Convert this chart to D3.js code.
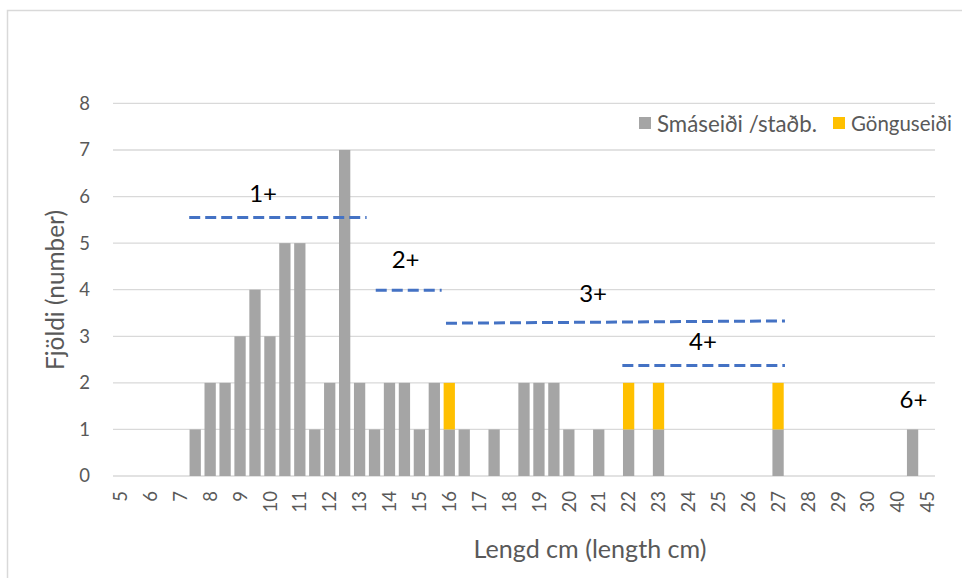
<!DOCTYPE html>
<html>
<head>
<meta charset="utf-8">
<script src="https://cdn.jsdelivr.net/npm/d3@7"></script>
<style>
  html, body { margin: 0; padding: 0; background: #fff; }
  svg { display: block; font-family: Lato, "Open Sans", sans-serif; }
</style>
</head>
<body>
<svg id="chart" width="962" height="578"></svg>
<script>
// ---- data ----
const categories = ["5","5.5","6","6.5","7","7.5","8","8.5","9","9.5","10","10.5","11","11.5","12","12.5","13","13.5","14","14.5","15","15.5","16","16.5","17","17.5","18","18.5","19","19.5","20","20.5","21","21.5","22","22.5","23","23.5","24","24.5","25","25.5","26","26.5","27","27.5","28","28.5","29","29.5","30","35","40","42","45"];
const smaseidi   = [0,0,0,0,0,1,2,2,3,4,3,5,5,1,2,7,2,1,2,2,1,2,1,1,0,1,0,2,2,2,1,0,1,0,1,0,1,0,0,0,0,0,0,0,1,0,0,0,0,0,0,0,0,1,0];
const gonguseidi = [0,0,0,0,0,0,0,0,0,0,0,0,0,0,0,0,0,0,0,0,0,0,1,0,0,0,0,0,0,0,0,0,0,0,1,0,1,0,0,0,0,0,0,0,1,0,0,0,0,0,0,0,0,0,0];
const seriesNames = ["Smáseiði /staðb.", "Gönguseiði"];
const seriesColors = ["#A5A5A5", "#FFC000"];
const yTicks = [0,1,2,3,4,5,6,7,8];
const tickLabels = categories.filter((d, i) => i % 2 === 0);
// age-class annotations (x in category-index units, y in count units)
const ageNames  = ["1+", "2+", "3+", "4+", "6+"];
const ageLineX1 = [5.1, 17.58, 22.28, 34.08, null];
const ageLineX2 = [16.97, 21.99, 44.96, 44.96, null];
const ageLineY1 = [5.55, 3.99, 3.28, 2.37, null];
const ageLineY2 = [5.55, 3.99, 3.33, 2.37, null];
const ageTextX  = [10.04, 19.58, 32.12, 39.48, 53.56];
const ageTextY  = [6.09, 4.68, 3.93, 2.92, 1.67];

// ---- layout ----
const svg = d3.select("#chart");
const L = 113, R = 935, T = 103.4, B = 476;

// scale a text's font size so that it spans the given width
function fitWidth(sel, target, base) {
  sel.each(function () {
    const len = this.getComputedTextLength();
    if (len > 0) d3.select(this).style("font-size", (base * target / len).toFixed(2) + "px");
  });
}

// chart border
svg.append("rect").attr("x", 7.5).attr("y", 10.5).attr("width", 1000).attr("height", 1000)
  .attr("fill", "none").attr("stroke", "#d9d9d9").attr("stroke-width", 1.5);

const x = d3.scaleBand().domain(categories).range([L, R]).paddingInner(0.245).paddingOuter(0.1225);
const xi = d3.scaleLinear().domain([0, categories.length]).range([L, R]);
const y = d3.scaleLinear().domain([0, 8]).range([B, T]);

// gridlines
svg.append("g").selectAll("line").data(yTicks).join("line")
  .attr("x1", L).attr("x2", R).attr("y1", d => y(d)).attr("y2", d => y(d))
  .attr("stroke", "#d9d9d9").attr("stroke-width", 1.3);

// y axis
const yAxis = svg.append("g").attr("transform", `translate(${L},0)`)
  .call(d3.axisLeft(y).tickValues(yTicks).tickSize(0).tickPadding(23).tickFormat(d3.format("d")));
yAxis.select(".domain").remove();
yAxis.selectAll("text").attr("fill", "#595959").style("font-size", "18.5px").style("font-family", "Lato, sans-serif");

// x axis
const xAxis = svg.append("g").attr("transform", `translate(0,${B})`)
  .call(d3.axisBottom(x).tickValues(tickLabels).tickSize(0));
xAxis.select(".domain").remove();
xAxis.selectAll("text")
  .attr("fill", "#595959").style("font-size", "18.5px").style("font-family", "Lato, sans-serif")
  .attr("transform", "rotate(-90)")
  .attr("text-anchor", "end")
  .attr("x", -15).attr("y", 0).attr("dy", "0.36em");

// stacked bars
const rows = categories.map((c, i) => ({ cat: c, s: smaseidi[i], g: gonguseidi[i] }));
const stack = d3.stack().keys(["s", "g"])(rows);
svg.append("g").selectAll("g").data(stack).join("g")
  .attr("fill", (d, i) => seriesColors[i])
  .selectAll("rect").data(d => d.filter(p => p[1] - p[0] > 0)).join("rect")
  .attr("x", d => x(d.data.cat)).attr("width", x.bandwidth())
  .attr("y", d => y(d[1])).attr("height", d => y(d[0]) - y(d[1]));

// age-class dashed lines
const ageIdx = ageNames.map((d, i) => i).filter(i => ageLineX1[i] !== null);
svg.append("g").selectAll("line").data(ageIdx).join("line")
  .attr("x1", i => xi(ageLineX1[i])).attr("x2", i => xi(ageLineX2[i]))
  .attr("y1", i => y(ageLineY1[i])).attr("y2", i => y(ageLineY2[i]))
  .attr("stroke", "#4472C4").attr("stroke-width", 3).attr("stroke-dasharray", "11,5");

svg.append("g").selectAll("text").data(ageNames).join("text")
  .attr("x", (d, i) => xi(ageTextX[i])).attr("y", (d, i) => y(ageTextY[i]))
  .attr("text-anchor", "middle").attr("dominant-baseline", "central")
  .attr("fill", "#000").style("font-size", "24px")
  .text(d => d);

// axis titles
const yTitle = svg.append("text").attr("transform", "translate(54,290) rotate(-90)")
  .attr("text-anchor", "middle").attr("dominant-baseline", "central")
  .attr("fill", "#595959").style("font-size", "20px").text("Fjöldi (number)");
fitWidth(yTitle, 160, 20);
const xTitle = svg.append("text").attr("x", 590).attr("y", 548)
  .attr("text-anchor", "middle").attr("dominant-baseline", "central")
  .attr("fill", "#595959").style("font-size", "20px").text("Lengd cm (length cm)");
fitWidth(xTitle, 233, 20);

// legend
const legX = [639, 833];
const legW = [160, 101];
const leg = svg.append("g").selectAll("g").data(seriesNames).join("g")
  .attr("transform", (d, i) => `translate(${legX[i]},117)`);
leg.append("rect").attr("width", 12).attr("height", 12).attr("fill", (d, i) => seriesColors[i]);
leg.append("text").attr("x", 18).attr("y", 6).attr("dominant-baseline", "central")
  .attr("fill", "#595959").style("font-size", "20px").text(d => d)
  .each(function (d, i) { fitWidth(d3.select(this), legW[i], 20); });
</script>
</body>
</html>
